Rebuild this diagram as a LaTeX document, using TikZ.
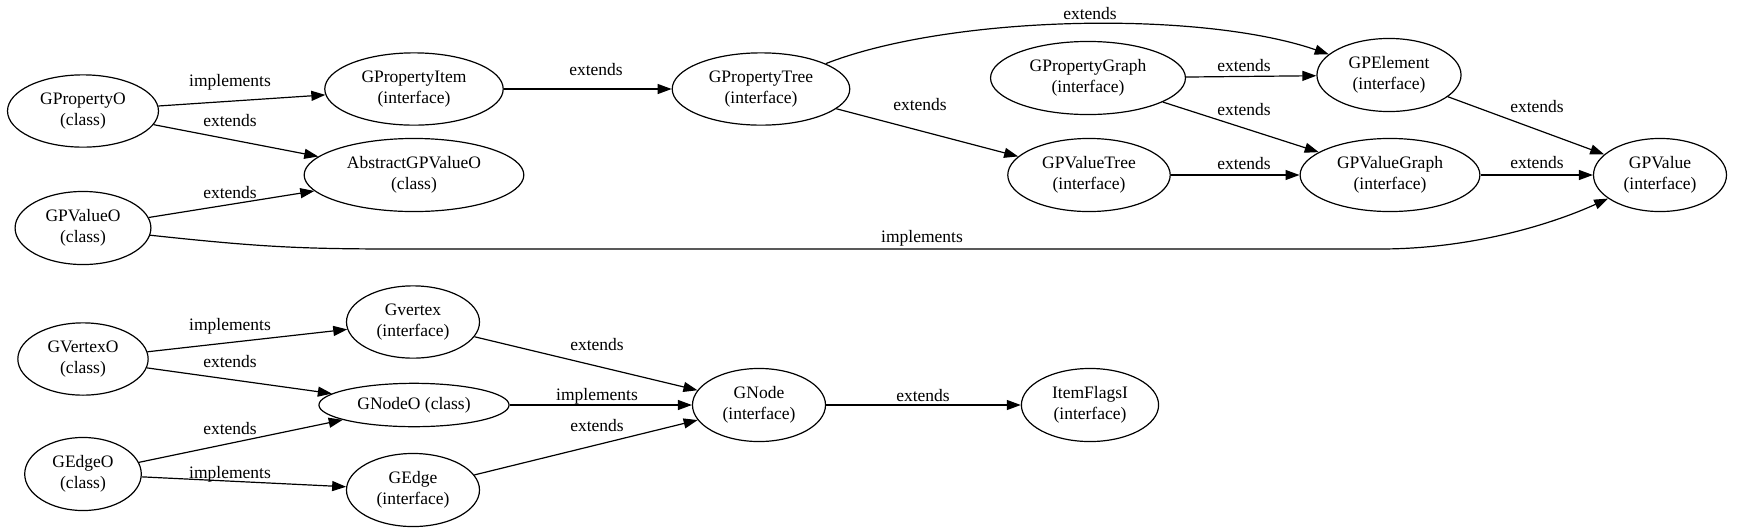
\documentclass[tikz,border=0pt]{standalone}
\usepackage{fontspec}
\setmainfont{Liberation Serif}
\usetikzlibrary{positioning, arrows.meta, shapes.geometric}

\begin{document}
\begin{tikzpicture}[
  x=0.5pt, y=-0.5pt,
  every node/.style={font=\fontsize{8.75}{10.5}\selectfont},
  cls/.style={draw, ellipse, line width=0.6pt, align=center, inner xsep=5.3pt, inner ysep=3.7pt},
  edge/.style={line width=0.6pt, -{Triangle[length=7pt, width=5pt]}},
  lbl/.style={inner sep=1pt}
]
\useasboundingbox (0,0) rectangle (1741,531);

% upper graph
\node[cls] (gpo)   at (83,111)   {GPropertyO\\(class)};
\node[cls] (gpi)   at (414,89)   {GPropertyItem\\(interface)};
\node[cls] (gpt)   at (761,89)   {GPropertyTree\\(interface)};
\node[cls] (agpvo) at (414,175)  {AbstractGPValueO\\(class)};
\node[cls] (gpvo)  at (83,228)   {GPValueO\\(class)};
\node[cls] (gpg)   at (1088,78)  {GPropertyGraph\\(interface)};
\node[cls] (gpe)   at (1389,75)  {GPElement\\(interface)};
\node[cls] (gpvt)  at (1089,175) {GPValueTree\\(interface)};
\node[cls] (gpvg)  at (1390,175) {GPValueGraph\\(interface)};
\node[cls] (gpv)   at (1660,175) {GPValue\\(interface)};

\draw[edge] (gpo) -- (gpi) node[lbl] at (230,82) {implements};
\draw[edge] (gpo) -- (agpvo) node[lbl] at (230,121) {extends};
\draw[edge] (gpvo) -- (agpvo) node[lbl] at (230,193) {extends};
\draw[edge] (gpi) -- (gpt) node[lbl] at (596,70) {extends};
\draw[edge] (gpt) .. controls (950,15) and (1200,10) .. (gpe) node[lbl] at (1090,14) {extends};
\draw[edge] (gpt) -- (gpvt) node[lbl] at (920,105) {extends};
\draw[edge] (gpg) -- (gpe) node[lbl] at (1244,66) {extends};
\draw[edge] (gpg) -- (gpvg) node[lbl] at (1244,110) {extends};
\draw[edge] (gpvt) -- (gpvg) node[lbl] at (1244,164) {extends};
\draw[edge] (gpe) -- (gpv) node[lbl] at (1537,107) {extends};
\draw[edge] (gpvg) -- (gpv) node[lbl] at (1537,163) {extends};
\draw[edge] (gpvo) .. controls (260,247) and (300,249) .. (400,249)
  -- (1380,249) .. controls (1470,249) and (1550,225) .. (gpv)
  node[lbl] at (922,238) {implements};

% lower graph
\node[cls] (gvo) at (83,359)   {GVertexO\\(class)};
\node[cls] (gv)  at (413,322)  {Gvertex\\(interface)};
\node[cls] (gno) at (414,405)  {GNodeO (class)};
\node[cls] (geo) at (83,474)   {GEdgeO\\(class)};
\node[cls] (ge)  at (413,490)  {GEdge\\(interface)};
\node[cls] (gn)  at (759,405)  {GNode\\(interface)};
\node[cls] (ifl) at (1090,405) {ItemFlagsI\\(interface)};

\draw[edge] (gvo) -- (gv) node[lbl] at (230,326) {implements};
\draw[edge] (gvo) -- (gno) node[lbl] at (230,362) {extends};
\draw[edge] (geo) -- (gno) node[lbl] at (230,429) {extends};
\draw[edge] (geo) -- (ge) node[lbl] at (230,474) {implements};
\draw[edge] (gv) -- (gn) node[lbl] at (597,345) {extends};
\draw[edge] (gno) -- (gn) node[lbl] at (597,396) {implements};
\draw[edge] (ge) -- (gn) node[lbl] at (597,426) {extends};
\draw[edge] (gn) -- (ifl) node[lbl] at (923,396) {extends};
\end{tikzpicture}
\end{document}
